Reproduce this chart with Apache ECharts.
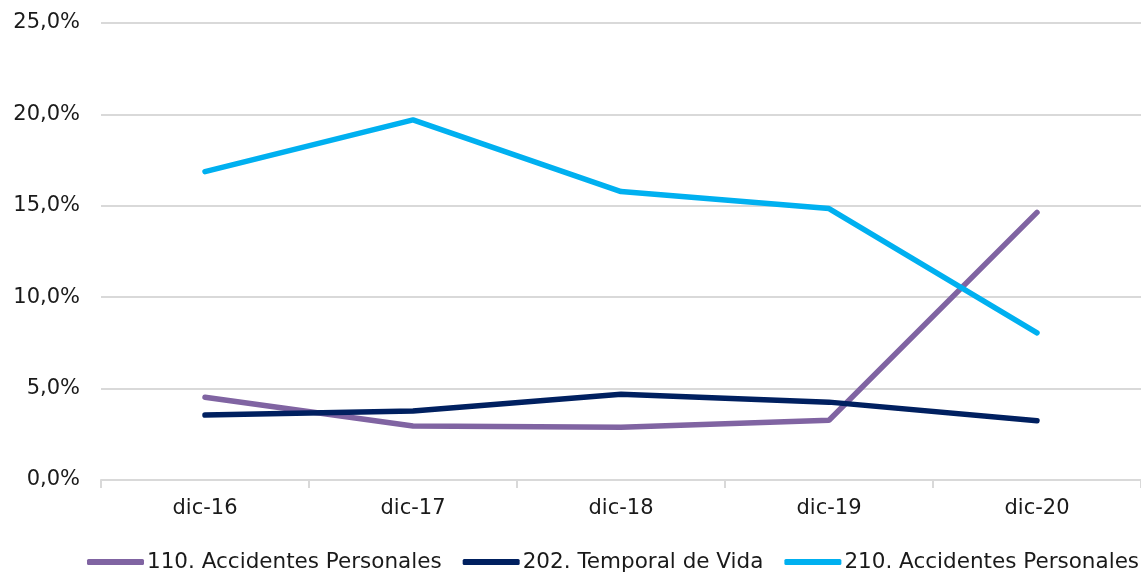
<!DOCTYPE html>
<html>
<head>
<meta charset="utf-8">
<script src="https://cdn.jsdelivr.net/npm/echarts@6/dist/echarts.min.js"></script>
<style>
  html, body { margin: 0; padding: 0; background: #fff; }
  #chart { width: 1141px; height: 573px; }
</style>
</head>
<body>
<div id="chart"></div>
<script>
// categorias eje x
var periodos = ['dic-16', 'dic-17', 'dic-18', 'dic-19', 'dic-20'];
// valores en %
var ramo110 = [4.53, 2.95, 2.89, 3.27, 14.64];
var ramo202 = [3.55, 3.77, 4.69, 4.26, 3.24];
var ramo210 = [16.87, 19.70, 15.78, 14.85, 8.05];
var nombres = ['110. Accidentes Personales', '202. Temporal de Vida', '210. Accidentes Personales'];
var colores = ['#8064A2', '#002060', '#00B0F0'];

var myChart = echarts.init(document.getElementById('chart'));
var fuente = 'DejaVu Sans, Verdana, sans-serif';

function serie(idx, data) {
    return {
        name: nombres[idx],
        type: 'line',
        data: data,
        symbol: 'none',
        lineStyle: { color: colores[idx], width: 5.5, cap: 'round' },
        itemStyle: { color: colores[idx] }
    };
}

var option = {
    animation: false,
    grid: { left: 101, right: 0, top: 23, bottom: 93, containLabel: false },
    legend: {
        top: 551,
        left: 87,
        width: 1100,
        padding: 0,
        itemGap: 21,
        itemWidth: 57,
        itemHeight: 6,
        icon: 'roundRect',
        textStyle: { fontFamily: fuente, fontSize: 21.5, color: '#1a1a1a', padding: [0, 0, 0, -2] },
        data: nombres
    },
    xAxis: {
        type: 'category',
        data: periodos,
        boundaryGap: true,
        axisLine: { lineStyle: { color: '#d9d9d9', width: 2 } },
        axisTick: { show: true, length: 8, lineStyle: { color: '#d9d9d9', width: 2 } },
        axisLabel: { fontFamily: fuente, fontSize: 21, color: '#1a1a1a', margin: 18 }
    },
    yAxis: {
        type: 'value',
        min: 0,
        max: 25,
        interval: 5,
        axisLine: { show: false },
        axisTick: { show: false },
        splitLine: { lineStyle: { color: '#d9d9d9', width: 2 } },
        axisLabel: {
            fontFamily: fuente, fontSize: 21, color: '#1a1a1a', margin: 21,
            formatter: function (v) { return v.toFixed(1).replace('.', ',') + '%'; }
        }
    },
    series: [serie(0, ramo110), serie(1, ramo202), serie(2, ramo210)]
};
myChart.setOption(option);
</script>
</body>
</html>
